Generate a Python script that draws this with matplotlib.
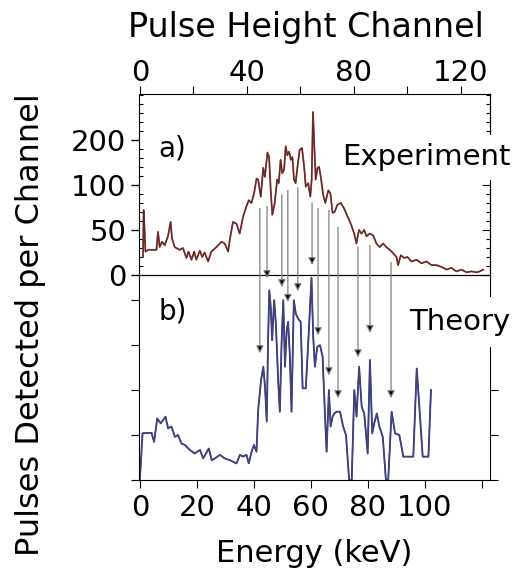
import numpy as np
import matplotlib
matplotlib.use('Agg')
from matplotlib import pyplot as plt
from matplotlib.ticker import MultipleLocator, FixedLocator, FixedFormatter

plt.rcParams['font.family'] = ['DejaVu Sans']

# energy calibration of the detector: keV per pulse-height channel
kev_per_ch = 0.9386

# a) measured spectrum (channel, pulses detected)
exp_ch = [1.2, 1.4, 1.5, 2.1, 3.1, 6.2, 6.8, 7.4, 8.3, 9.3, 10.5, 11.5, 12.0, 13.0,
          14.9, 16.1, 17.4, 18.2, 19.3, 20.3, 21.1, 22.4, 23.3, 24.2, 25.5, 26.7,
          28.6, 30.5, 31.7, 33.0, 33.6, 34.8, 36.1, 37.3, 38.6, 39.8, 40.7, 41.7,
          42.7, 43.6, 44.2, 45.2, 46.1, 46.7, 47.7, 48.3, 48.9, 49.5, 50.4, 51.3,
          51.9, 52.6, 53.2, 53.9, 54.5, 55.1, 55.8, 56.4, 57.0, 57.6, 58.2, 58.9,
          59.7, 60.6, 61.4, 62.0, 62.9, 63.7, 64.2, 64.7, 65.2, 65.7, 66.4, 67.0,
          67.6, 68.5, 69.3, 70.4, 71.2, 72.0, 72.8, 73.8, 75.1, 76.3, 77.6, 78.8,
          80.1, 80.9, 81.9, 82.8, 83.8, 84.7, 85.9, 87.2, 88.4, 89.6, 90.9, 92.1,
          93.4, 94.7, 95.9, 96.5, 97.5, 98.8, 100.0, 101.5, 103.4, 105.2, 107.1,
          109.0, 110.8, 112.7, 114.6, 116.4, 118.3, 120.2, 122.1, 123.9, 125.8,
          127.0, 128.3]
exp_counts = [20, 72, 70, 26, 28, 28, 48, 31, 37, 33, 43, 59, 41, 31,
              28, 30, 19, 26, 17, 26, 17, 27, 20, 25, 15, 26,
              31, 37, 35, 26, 39, 59, 57, 46, 65, 76, 83, 80,
              91, 107, 106, 87, 119, 109, 136, 131, 94, 67, 80, 106,
              102, 128, 113, 117, 143, 133, 137, 128, 131, 106, 102, 120,
              139, 141, 120, 98, 102, 87, 106, 181, 143, 106, 119, 120,
              109, 89, 80, 94, 91, 69, 70, 78, 80, 74, 65, 57,
              46, 35, 50, 46, 50, 43, 46, 44, 35, 31, 35, 31,
              28, 24, 20, 11, 22, 19, 20, 15, 17, 13, 15,
              11, 11, 9, 6, 8, 4, 6, 3, 4, 3,
              4, 6]

# b) calculated spectrum (keV, arbitrary units)
th_kev = [0.0, 0.95, 4.1, 5.0, 6.1, 7.3, 9.0, 9.9, 11.1, 12.3, 13.4, 14.6, 15.8,
          17.5, 19.3, 21.1, 22.2, 24.2, 25.2, 26.3, 28.1, 29.8, 31.6, 33.9, 35.1,
          36.2, 37.4, 38.2, 39.2, 40.0, 40.9, 41.5, 42.5, 43.3, 43.9, 44.5, 45.0,
          45.4, 45.9, 46.4, 47.1, 47.7, 48.5, 49.1, 49.7, 50.3, 50.9, 51.5, 52.0,
          52.6, 53.2, 54.0, 54.7, 55.5, 56.4, 57.1, 58.2, 59.1, 60.2, 60.8, 61.4,
          62.2, 63.2, 64.1, 64.9, 65.5, 66.3, 66.9, 67.6, 68.2, 69.0, 70.2, 71.3,
          72.3, 73.4, 74.3, 75.2, 76.0, 76.9, 77.8, 78.7, 79.9, 80.7, 81.5, 82.2,
          83.1, 84.0, 85.2, 86.3, 87.1, 88.3, 89.5, 91.0, 92.4, 95.9, 97.1, 97.7,
          99.2, 101.2, 102.1]
th_vals = [0.0, 1.04, 1.05, 0.85, 1.37, 1.26, 1.41, 1.15, 1.19, 0.96, 1.0, 0.81, 0.78,
           0.67, 0.59, 0.67, 0.48, 0.70, 0.44, 0.48, 0.56, 0.48, 0.44, 0.37, 0.56,
           0.52, 0.56, 0.37, 0.63, 0.78, 0.63, 1.56, 2.22, 2.52, 2.07, 1.30, 3.19,
           4.22, 3.85, 3.11, 4.0, 3.48, 2.22, 1.52, 3.04, 4.0, 2.52, 3.33, 3.52,
           2.78, 1.52, 4.0, 3.70, 3.59, 3.52, 2.04, 2.04, 3.11, 4.50, 3.19, 2.52,
           2.96, 3.0, 2.74, 1.48, 0.63, 2.0, 1.19, 1.41, 1.48, 1.52, 1.52, 1.19,
           1.0, 0.0, 0.0, 2.0, 1.41, 2.52, 1.63, 1.48, 0.59, 2.67, 1.04, 1.26,
           1.48, 1.19, 0.96, 0.0, 0.0, 1.52, 1.04, 1.0, 0.52, 0.52, 2.48, 1.93,
           0.52, 0.52, 2.0]

# peak assignments: energy, start on measured curve, arrow tip on theory axis
arrow_kev = [42.1, 44.6, 49.8, 51.9, 55.4, 60.4, 62.5, 66.3, 69.5, 76.5, 80.7, 88.1]
arrow_from = [74, 76, 89, 94, 97, 80, 74, 72, 53, 31, 33, 14]
arrow_to = [2.82, 4.49, 4.29, 3.96, 4.2, 4.78, 3.22, 2.33, 1.82, 2.73, 3.27, 1.82]

top_ticks = [0, 50, 100, 150]
top_ticklabels = ['0', '50', '100', '200']
ch_ticks = [0, 20, 40, 60, 80, 100, 120]
ch_ticklabels = ['0', '', '40', '', '80', '', '120']
kev_ticks = [0, 20, 40, 60, 80, 100, 120]
kev_ticklabels = ['0', '20', '40', '60', '80', '100', '']

fs = 21
xlo, xhi = -0.3, 122.8

fig = plt.figure(figsize=(5.14, 5.68), dpi=100)
ax_t = fig.add_axes([0.2704, 0.5158, 0.6829, 0.3187])
ax_b = fig.add_axes([0.2704, 0.1549, 0.6829, 0.3609])
ax_b.patch.set_visible(False)

# ---- a) experiment ----
ex = np.array(exp_ch) * kev_per_ch
ax_t.plot(ex, exp_counts, color='#d0372e', lw=1.3)
ax_t.plot(ex, exp_counts, color='#3a3232', lw=0.9, alpha=0.9)
ax_t.set_xlim(xlo, xhi)
ax_t.set_ylim(0, 201)
ax_t.set_xticks([])
ax_t.yaxis.set_major_locator(FixedLocator(top_ticks))
ax_t.yaxis.set_major_formatter(FixedFormatter(top_ticklabels))
ax_t.yaxis.set_minor_locator(MultipleLocator(10))
ax_t.tick_params(axis='y', which='major', direction='out', length=6, width=1,
                 labelsize=fs, pad=3, left=True, right=False)
ax_t.tick_params(axis='y', which='minor', direction='in', length=3, width=0.8,
                 left=True, right=True)
ax_t.spines['top'].set_visible(False)

ry = ax_t.secondary_yaxis('right')
ry.yaxis.set_major_locator(FixedLocator(top_ticks))
ry.tick_params(direction='in', length=6, labelright=False)

sec = ax_t.secondary_xaxis('top', functions=(lambda e: e / kev_per_ch,
                                             lambda c: c * kev_per_ch))
sec.xaxis.set_major_locator(FixedLocator(ch_ticks))
sec.xaxis.set_major_formatter(FixedFormatter(ch_ticklabels))
sec.tick_params(direction='out', length=6, labelsize=fs, pad=-1)

ax_t.text(0.055, 0.7, 'a)', transform=ax_t.transAxes, fontsize=20, va='center')
ax_t.text(0.58, 0.65, 'Experiment', transform=ax_t.transAxes, fontsize=21,
          va='center', clip_on=False, zorder=5,
          bbox=dict(fc='white', ec='none', pad=6))

# ---- b) theory ----
ax_b.plot(th_kev, th_vals, color='#2b2bb0', lw=1.3)
ax_b.plot(th_kev, th_vals, color='#4a4a5c', lw=0.9, alpha=0.9)
ax_b.set_xlim(xlo, xhi)
ax_b.set_ylim(0, 4.56)
ax_b.set_yticks([0, 1, 2, 3, 4])
ax_b.set_yticklabels([])
ax_b.tick_params(axis='y', direction='out', length=6, left=True, right=True)
ax_b.xaxis.set_major_locator(FixedLocator(kev_ticks))
ax_b.xaxis.set_major_formatter(FixedFormatter(kev_ticklabels))
ax_b.tick_params(axis='x', direction='out', length=6, labelsize=fs, pad=4)

ax_b.text(0.055, 0.82, 'b)', transform=ax_b.transAxes, fontsize=20, va='center')
ax_b.text(0.77, 0.77, 'Theory', transform=ax_b.transAxes, fontsize=21,
          va='center', clip_on=False, zorder=5,
          bbox=dict(fc='white', ec='none', pad=8))

for e, c0, u1 in zip(arrow_kev, arrow_from, arrow_to):
    ax_b.annotate('', xy=(e, u1), xycoords='data', xytext=(e, c0),
                  textcoords=ax_t.transData, annotation_clip=False,
                  arrowprops=dict(arrowstyle='-|>', ec='0.5', fc='k', lw=0.9,
                                  mutation_scale=11, shrinkA=0, shrinkB=0))

fig.text(0.595, 0.935, 'Pulse Height Channel', fontsize=24, ha='center', va='baseline')
fig.text(0.611, 0.011, 'Energy (keV)', fontsize=22, ha='center', va='baseline')
fig.text(0.06, 0.428, 'Pulses Detected per Channel', fontsize=23, rotation=90,
         ha='center', va='center')

plt.savefig('out.png', dpi=100)
